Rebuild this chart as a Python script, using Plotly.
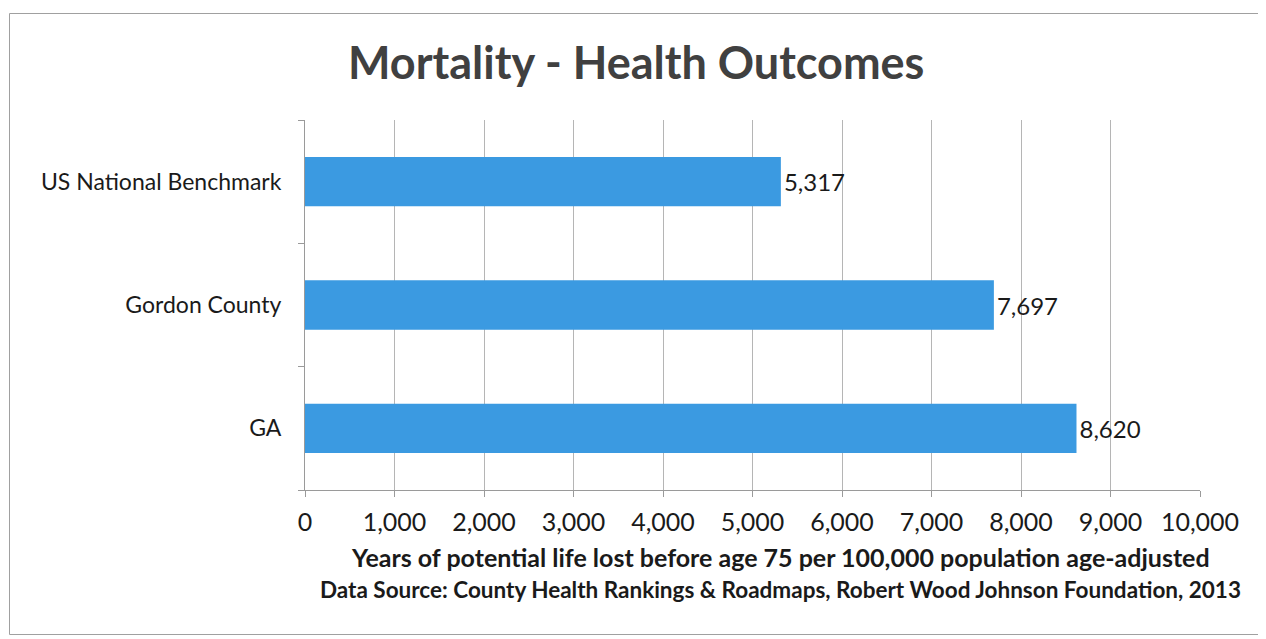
import plotly.graph_objects as go

categories = ["GA", "Gordon County", "US National Benchmark"]
values = [8620, 7697, 5317]
tick_vals = [0, 1000, 2000, 3000, 4000, 5000, 6000, 7000, 8000, 9000, 10000]
tick_text = ["0", "1,000", "2,000", "3,000", "4,000", "5,000", "6,000", "7,000", "8,000", "9,000", "10,000"]
title = "Mortality - Health Outcomes"
axis_title = "Years of potential life lost before age 75 per 100,000 population age-adjusted"
source = "Data Source: County Health Rankings & Roadmaps, Robert Wood Johnson Foundation, 2013"

FONT = "Lato, Open Sans, sans-serif"
OFF = 8  # page offset of the plot div
W, H = 1266, 639
L, T = 305 - OFF, 120 - OFF
R = W - (1200 - OFF)
B = H - (490 - OFF)
pw = W - L - R
ph = H - T - B

def px(x):
    return (x - OFF - L) / pw

def py(y):
    return (H - B - (y - OFF)) / ph

fig = go.Figure(go.Bar(
    y=categories, x=values, orientation="h",
    marker=dict(color="#3b9ae1", line=dict(width=0)),
    width=0.4,
    text=[f"{v:,}" for v in values],
    textposition="outside",
    textfont=dict(family=FONT, size=24, color="#1a1a1a"),
    cliponaxis=False,
))

fig.update_layout(
    width=W, height=H,
    margin=dict(l=L, r=R, t=T, b=B, autoexpand=False),
    paper_bgcolor="white", plot_bgcolor="white",
    showlegend=False,
    font=dict(family=FONT, color="#1a1a1a"),
)
fig.update_xaxes(
    range=[0, 10000], tickvals=tick_vals, ticktext=tick_text,
    showgrid=True, gridcolor="#b5b5b5", gridwidth=1,
    showline=True, linecolor="#9a9a9a", linewidth=1,
    ticks="outside", ticklen=6, tickcolor="#9a9a9a",
    tickfont=dict(family=FONT, size=25, color="#1a1a1a"),
    ticklabelstandoff=4,
    zeroline=False,
)
fig.update_yaxes(
    showline=True, linecolor="#9a9a9a", linewidth=1,
    ticks="outside", ticklen=6, tickcolor="#9a9a9a", tickson="boundaries",
    tickfont=dict(family=FONT, size=23, color="#1a1a1a"),
    ticklabelstandoff=18,
    showgrid=False,
)

fig.add_annotation(text=f"<b>{title}</b>", x=px(636), y=py(62), xref="paper", yref="paper",
                   showarrow=False, font=dict(family=FONT, size=45, color="#404040"),
                   xanchor="center", yanchor="middle")
fig.add_annotation(text=f"<b>{axis_title}</b>", x=px(780), y=py(557), xref="paper", yref="paper",
                   showarrow=False, font=dict(family=FONT, size=25, color="#1a1a1a"),
                   xanchor="center", yanchor="middle")
fig.add_annotation(text=f"<b>{source}</b>", x=px(780), y=py(589), xref="paper", yref="paper",
                   showarrow=False, font=dict(family=FONT, size=22.5, color="#1a1a1a"),
                   xanchor="center", yanchor="middle")

fig.add_shape(type="rect", xref="paper", yref="paper",
              x0=px(9.5), x1=px(1258.5), y0=py(634.5), y1=py(13.5),
              line=dict(color="#a0a0a0", width=1), layer="below")

fig.write_html("out.html")
